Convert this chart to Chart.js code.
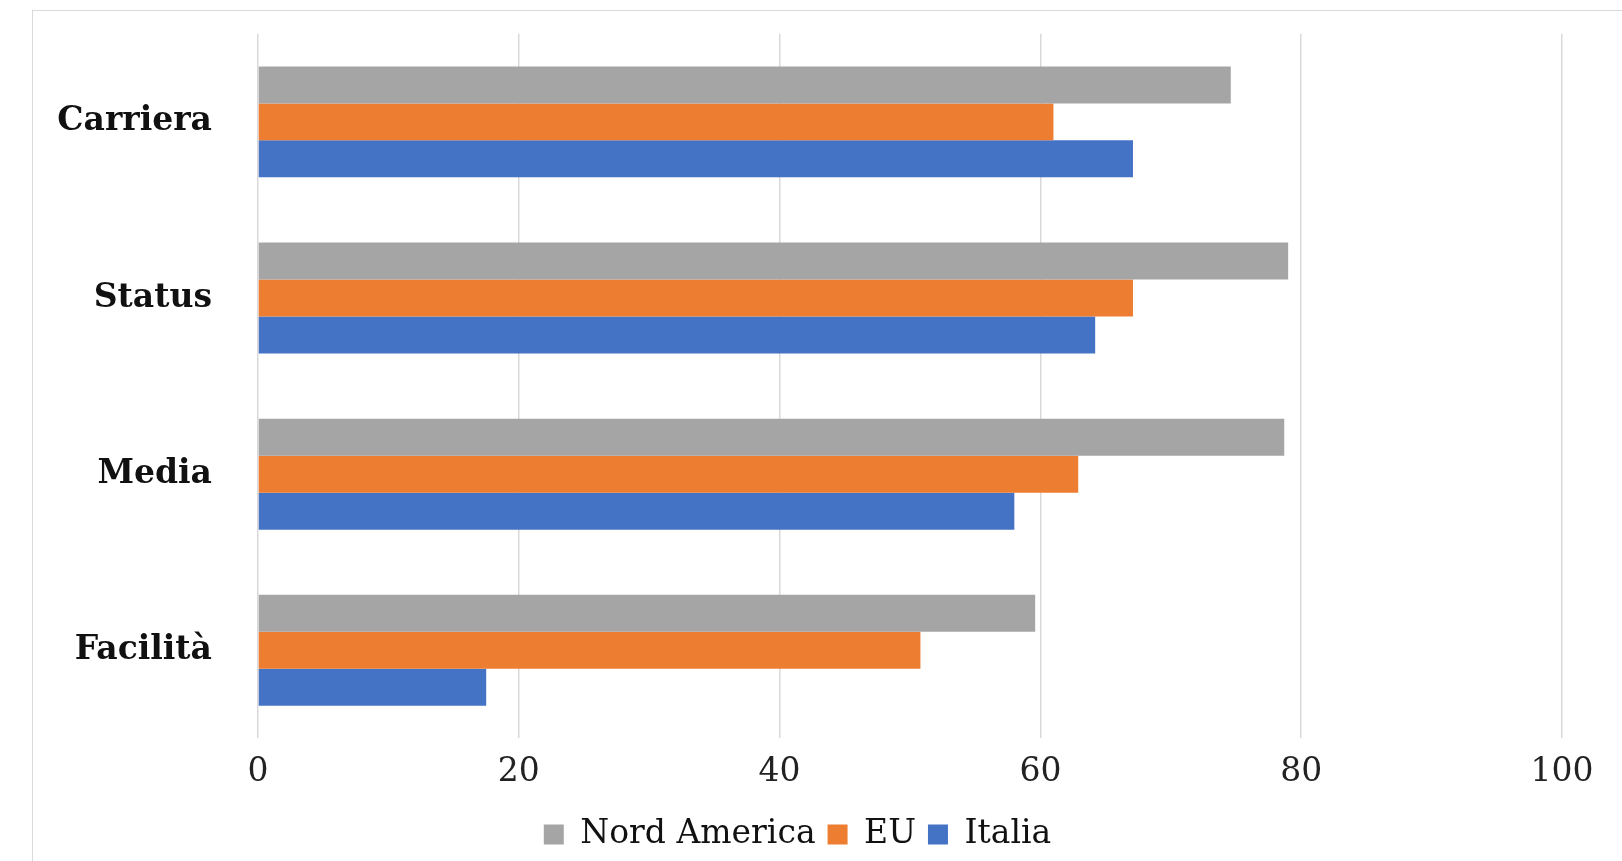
<!DOCTYPE html>
<html>
<head>
<script src="https://cdn.jsdelivr.net/npm/chart.js@4"></script>
<style>
body { margin: 0; background: #fff; overflow: hidden; }
#frame { position: absolute; left: 32px; top: 10px; width: 1700px; height: 900px; border: 1px solid #d9d9d9; }
#wrap { position: absolute; left: 33px; top: -24px; width: 1589px; height: 885px; }
</style>
</head>
<body>
<div id="frame"></div>
<div id="wrap"><canvas id="chart"></canvas></div>
<script>
var categories = ['Carriera', 'Status', 'Media', 'Facilità'];
var seriesNames = ['Nord America', 'EU', 'Italia'];
var nordAmerica = [74.6, 79.0, 78.7, 59.6];
var eu = [61.0, 67.1, 62.9, 50.8];
var italia = [67.1, 64.2, 58.0, 17.5];
var xTicks = [0, 20, 40, 60, 80, 100];
var colors = ['#a5a5a5', '#ed7d31', '#4472c4'];

var font = { family: '"DejaVu Serif", "Liberation Serif", serif', size: 33 };

new Chart(document.getElementById('chart').getContext('2d'), {
    type: 'bar',
    data: {
        labels: categories,
        datasets: [nordAmerica, eu, italia].map((d, i) => ({
            label: seriesNames[i],
            data: d,
            backgroundColor: colors[i],
            barPercentage: 1,
            categoryPercentage: 0.63
        }))
    },
    options: {
        indexAxis: 'y',
        responsive: true,
        maintainAspectRatio: false,
        animation: false,
        layout: { padding: { top: 17, right: 60, bottom: 0, left: 0 } },
        scales: {
            x: {
                min: 0, max: 100,
                afterBuildTicks: s => { s.ticks = xTicks.map(v => ({ value: v })); },
                grid: { color: '#d9d9d9', lineWidth: 1.5, drawTicks: false },
                border: { display: false },
                ticks: { color: '#222', font: font, padding: 14 }
            },
            y: {
                grid: { display: false },
                border: { display: false },
                afterFit: s => { s.width = 225; },
                ticks: { color: '#111', font: Object.assign({}, font, { weight: '600' }), padding: 38 }
            }
        },
        plugins: {
            legend: {
                position: 'bottom',
                labels: { color: '#111', font: font, boxWidth: 20, boxHeight: 20, padding: 12 }
            },
            tooltip: { enabled: false }
        }
    }
});
</script>
</body>
</html>
